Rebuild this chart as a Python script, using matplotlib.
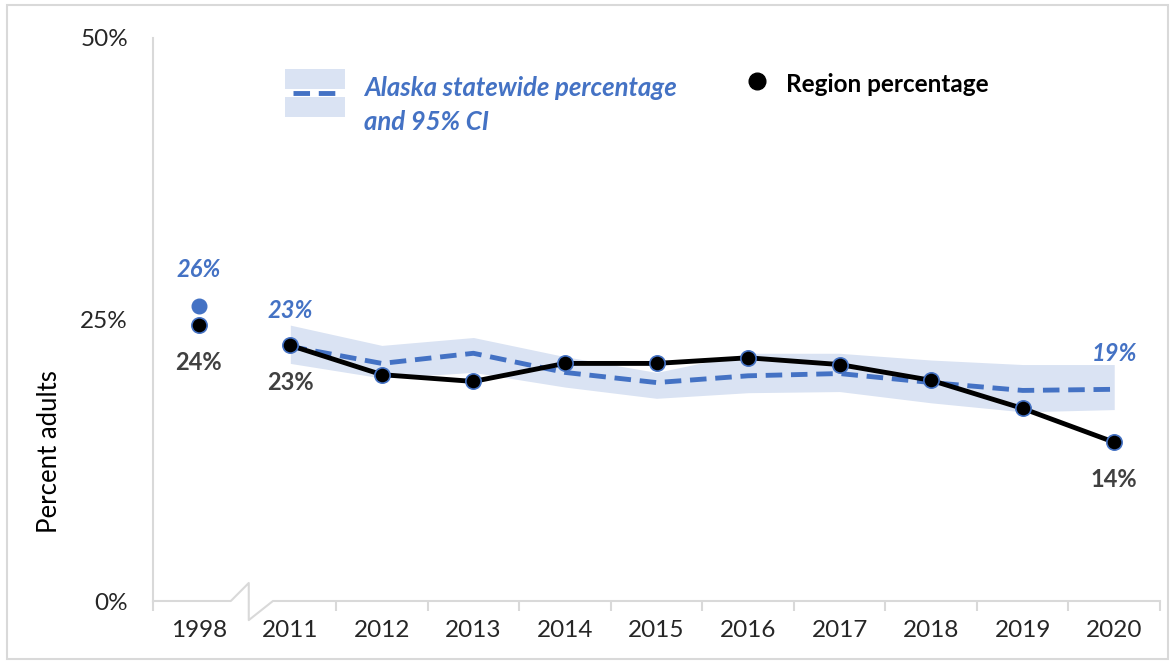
import matplotlib
matplotlib.use("Agg")
import matplotlib.pyplot as plt
from matplotlib.patches import Rectangle
from matplotlib.lines import Line2D
import numpy as np

years = ['1998', '2011', '2012', '2013', '2014', '2015', '2016', '2017', '2018', '2019', '2020']
region = [24.5, 22.7, 20.1, 19.5, 21.1, 21.1, 21.6, 21.0, 19.6, 17.1, 14.1]
state = [26.2, 22.6, 21.1, 22.0, 20.3, 19.4, 20.0, 20.2, 19.4, 18.7, 18.8]
# 95% CI for statewide, 2011-2020 only
ci_low = [21.1, 19.8, 20.3, 19.0, 18.0, 18.5, 18.6, 17.6, 16.8, 17.0]
ci_high = [24.5, 22.7, 23.4, 21.7, 20.3, 22.0, 22.0, 21.4, 21.0, 21.0]

BLUE = '#4472c4'
BAND = '#dae3f3'
GRID = '#d9d9d9'
DARK = '#404040'
W, H = 1175, 664

plt.rcParams['font.family'] = ['Lato', 'DejaVu Sans']

fig = plt.figure(figsize=(W / 100, H / 100), dpi=100)
ax = fig.add_axes([153 / W, 1 - 601 / H, (1160 - 153) / W, (601 - 38) / H])


def fxy(px, py):
    # pixel position -> figure fraction
    return px / W, 1 - py / H


x = np.arange(len(years))

# CI band and statewide trend (2011 onwards)
ax.fill_between(x[1:], ci_low, ci_high, color=BAND, lw=0, zorder=1)
ax.plot(x[1:], state[1:], color=BLUE, lw=3.5, dashes=(3.4, 1.8), zorder=2)
ax.plot(x[0], state[0], 'o', color=BLUE, ms=10.5, zorder=3)

# region trend
ax.plot(x[1:], region[1:], color='black', lw=3.5, zorder=4)
ax.plot(x, region, 'o', color='black', mec=BLUE, mew=1.2, ms=11, lw=0, zorder=5)

# data labels
for i in [0, 1, 10]:
    ax.annotate(f'{round(state[i])}%', (x[i], state[i]), xytext=(0, 26), textcoords='offset points',
                ha='center', va='center', color=BLUE, fontsize=17, fontweight='bold', style='italic')
    ax.annotate(f'{round(region[i])}%', (x[i], region[i]), xytext=(0, -27), textcoords='offset points',
                ha='center', va='center', color=DARK, fontsize=17, fontweight='bold')

ax.set_xlim(-0.5, 10.5)
ax.set_ylim(0, 50)
ax.set_yticks([0, 25, 50])
ax.set_yticklabels(['0%', '25%', '50%'])
ax.set_xticks(x)
ax.set_xticklabels(years)
ax.tick_params(axis='both', length=0, labelsize=17.5, colors='#262626')
ax.tick_params(axis='x', pad=14)
ax.tick_params(axis='y', pad=18)
ax.set_xticks([-0.5] + [i + 0.5 for i in range(1, 11)], minor=True)
ax.tick_params(axis='x', which='minor', length=7, color=GRID, width=1.5)

for s in ['top', 'right', 'bottom']:
    ax.spines[s].set_visible(False)
ax.spines['left'].set_color(GRID)
ax.spines['left'].set_linewidth(1.5)

# x axis with break between 1998 and 2011
ax.plot([-0.5, 0.35, 0.546, 0.546, 0.81, 10.5], [0, 0, 1.6, -1.7, 0, 0],
        color=GRID, lw=1.5, clip_on=False, zorder=0)

fig.text(*fxy(50, 452), 'Percent adults', rotation=90, ha='center', va='center', fontsize=18.5, color='black')

# legend
fig.patches.append(Rectangle(fxy(285, 89), 60 / W, 20 / H, transform=fig.transFigure, color=BAND, lw=0))
fig.patches.append(Rectangle(fxy(285, 117), 60 / W, 20 / H, transform=fig.transFigure, color=BAND, lw=0))
lx0, ly = fxy(293, 93)
lx1, _ = fxy(339, 93)
fig.lines.append(Line2D([lx0, lx1], [ly, ly], transform=fig.transFigure, color=BLUE, lw=3.5, dashes=(3.4, 1.8)))
fig.text(*fxy(364, 88), 'Alaska statewide percentage', ha='left', va='center', color=BLUE,
         fontsize=18.5, fontweight='bold', style='italic')
fig.text(*fxy(364, 122), 'and 95% CI', ha='left', va='center', color=BLUE,
         fontsize=18.5, fontweight='bold', style='italic')
fig.lines.append(Line2D([757 / W], [1 - 81 / H], transform=fig.transFigure, marker='o', color='black', ms=12))
fig.text(*fxy(786, 84), 'Region percentage', ha='left', va='center', color='black',
         fontsize=17.5, fontweight='bold')

# outer frame
fig.patches.append(Rectangle((0.006, 0.008), 0.988, 0.984, transform=fig.transFigure,
                             fill=False, edgecolor=GRID, lw=1.5))

fig.savefig('out.png', dpi=100)
